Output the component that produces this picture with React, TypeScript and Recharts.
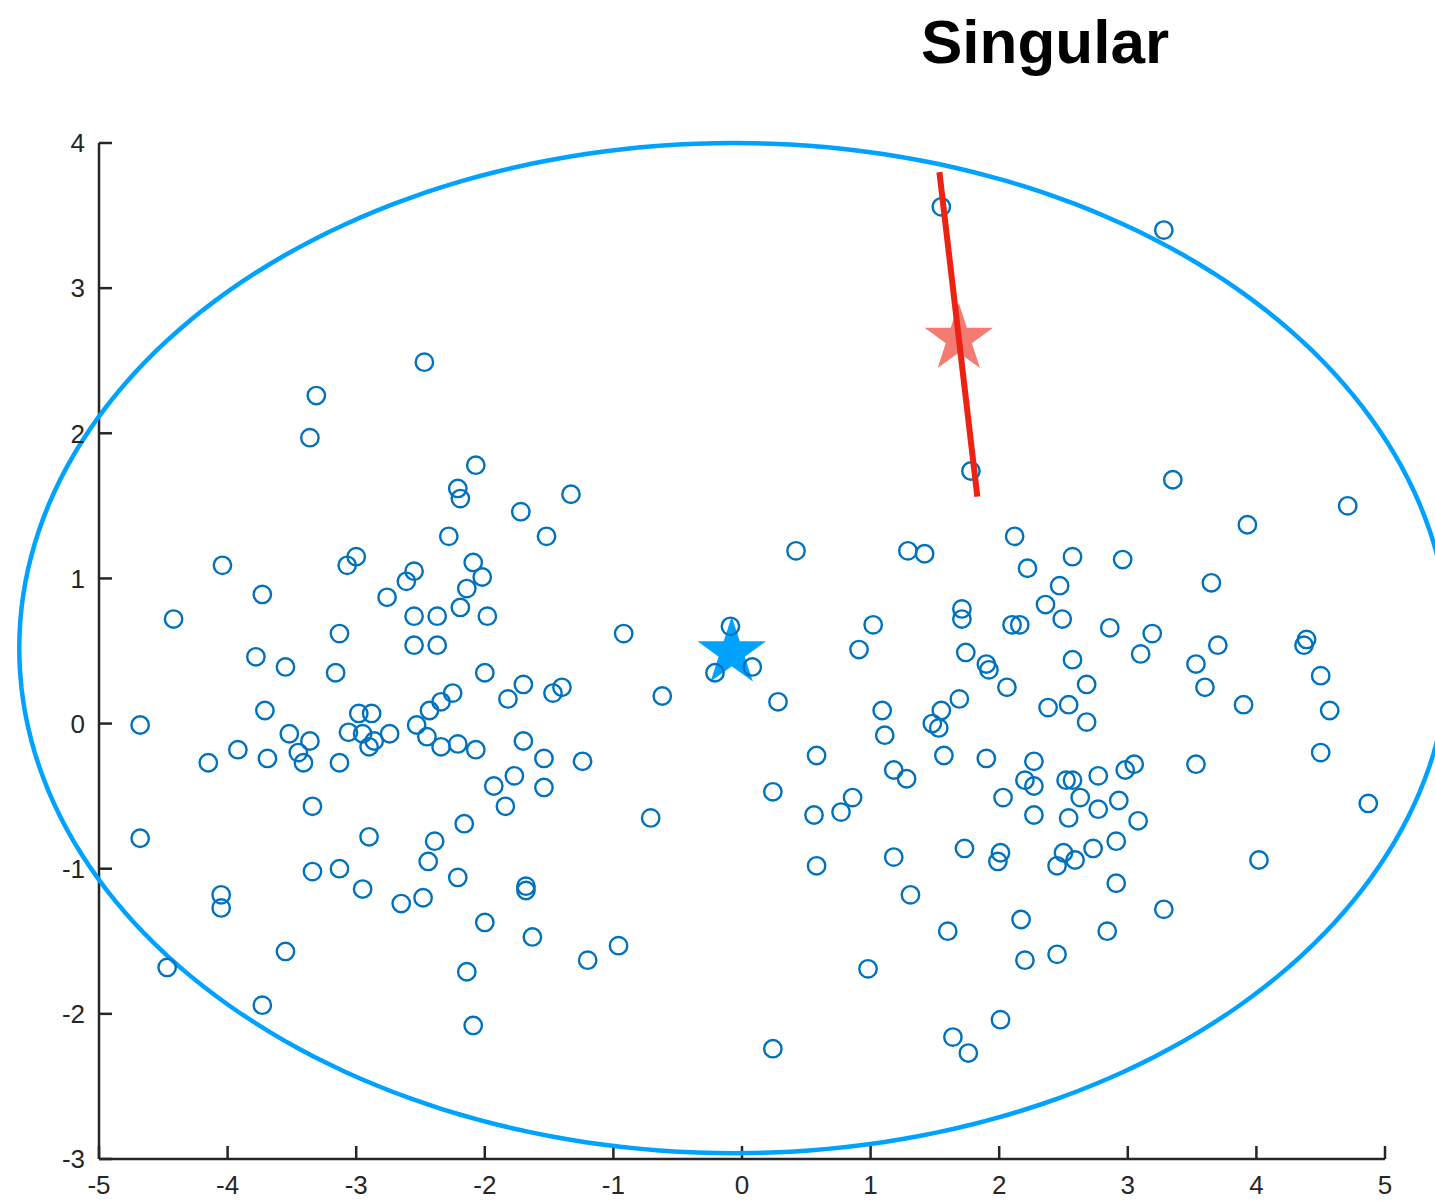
import React from 'react';
import { ComposedChart, Line, Scatter, XAxis, YAxis } from 'recharts';

// ejes
const xTicks = [-5, -4, -3, -2, -1, 0, 1, 2, 3, 4, 5];
const yTicks = [-3, -2, -1, 0, 1, 2, 3, 4];

// grupo izquierdo [x, y]
const leftCluster = [
  [-3.31, 2.26], [-3.36, 1.97], [-2.47, 2.49], [-2.07, 1.78], [-2.21, 1.62], [-2.19, 1.55],
  [-1.33, 1.58], [-1.72, 1.46], [-2.28, 1.29], [-1.52, 1.29], [-2.09, 1.11], [-2.02, 1.01],
  [-2.14, 0.93], [-2.19, 0.8], [-2.37, 0.74], [-1.98, 0.74], [-2.37, 0.54], [-4.04, 1.09],
  [-4.42, 0.72], [-3.73, 0.89], [-3.78, 0.46], [-3.55, 0.39], [-3.13, 0.62], [-3.16, 0.35],
  [-3.07, 1.09], [-3.0, 1.15], [-2.61, 0.98], [-2.55, 1.05], [-2.76, 0.87], [-2.55, 0.74],
  [-2.55, 0.54], [-4.68, -0.01], [-3.71, 0.09], [-2.98, 0.07], [-2.88, 0.07], [-2.53, -0.01],
  [-2.43, 0.09], [-2.45, -0.09], [-3.52, -0.07], [-3.36, -0.12], [-3.45, -0.2], [-3.41, -0.27],
  [-3.92, -0.18], [-4.15, -0.27], [-3.69, -0.24], [-3.13, -0.27], [-3.06, -0.06], [-2.95, -0.07],
  [-2.86, -0.12], [-2.9, -0.16], [-2.74, -0.07], [-2.34, 0.15], [-2.25, 0.21], [-2.0, 0.35],
  [-1.7, 0.27], [-1.82, 0.17], [-1.47, 0.21], [-1.4, 0.25], [-2.34, -0.16], [-2.21, -0.14],
  [-2.07, -0.18], [-1.7, -0.12], [-1.54, -0.24], [-1.24, -0.26], [-1.77, -0.36], [-1.93, -0.43],
  [-1.54, -0.44], [-1.84, -0.57], [-2.16, -0.69], [-2.39, -0.81], [-2.44, -0.95], [-2.48, -1.2],
  [-2.21, -1.06], [-1.68, -1.12], [-1.68, -1.15], [-2.0, -1.37], [-1.63, -1.47], [-0.96, -1.53],
  [-1.2, -1.63], [-2.14, -1.71], [-2.09, -2.08], [-0.71, -0.65], [-3.34, -0.57], [-2.9, -0.78],
  [-4.68, -0.79], [-3.34, -1.02], [-3.13, -1.0], [-2.95, -1.14], [-2.65, -1.24], [-4.05, -1.18],
  [-4.05, -1.27], [-3.55, -1.57], [-4.47, -1.68], [-3.73, -1.94], [-0.92, 0.62], [-0.62, 0.19],
];

// puntos cerca del centro
const centerCluster = [
  [-0.09, 0.67], [-0.21, 0.35], [0.08, 0.39], [0.28, 0.15], [0.24, -0.47], [0.24, -2.24],
];

// grupo derecho [x, y]
const rightCluster = [
  [1.55, 3.56], [3.28, 3.4], [1.78, 1.74], [0.42, 1.19], [1.29, 1.19], [1.42, 1.17],
  [2.12, 1.29], [2.57, 1.15], [2.22, 1.07], [2.47, 0.95], [2.36, 0.82], [2.49, 0.72],
  [1.71, 0.79], [1.71, 0.72], [2.1, 0.68], [2.16, 0.68], [1.02, 0.68], [0.91, 0.51],
  [1.74, 0.49], [1.9, 0.41], [1.92, 0.37], [2.06, 0.25], [2.57, 0.44], [2.68, 0.27],
  [1.69, 0.17], [1.09, 0.09], [1.55, 0.09], [1.48, 0.0], [1.53, -0.03], [1.11, -0.08],
  [2.38, 0.11], [2.54, 0.13], [2.68, 0.01], [0.58, -0.22], [1.18, -0.32], [1.28, -0.38],
  [1.57, -0.22], [1.9, -0.24], [2.27, -0.26], [2.2, -0.39], [2.27, -0.43], [2.52, -0.39],
  [2.57, -0.39], [2.63, -0.51], [2.03, -0.51], [2.27, -0.63], [2.54, -0.65], [0.56, -0.63],
  [0.77, -0.61], [0.86, -0.51], [0.58, -0.98], [1.18, -0.92], [1.31, -1.18], [0.98, -1.69],
  [1.73, -0.86], [1.6, -1.43], [2.01, -0.89], [1.99, -0.95], [2.5, -0.89], [2.45, -0.98],
  [2.59, -0.94], [2.17, -1.35], [2.2, -1.63], [2.45, -1.59], [2.01, -2.04], [1.64, -2.16],
  [1.76, -2.27], [2.77, -0.36], [2.98, -0.32], [3.05, -0.28], [3.53, -0.28], [2.77, -0.59],
  [2.93, -0.53], [3.08, -0.67], [2.73, -0.86], [2.91, -0.81], [2.91, -1.1], [3.28, -1.28],
  [2.84, -1.43], [4.02, -0.94], [4.87, -0.55], [3.35, 1.68], [4.71, 1.5], [3.93, 1.37],
  [2.96, 1.13], [3.65, 0.97], [2.86, 0.66], [3.19, 0.62], [3.1, 0.48], [3.7, 0.54],
  [3.53, 0.41], [3.6, 0.25], [4.39, 0.58], [4.37, 0.54], [4.5, 0.33], [3.9, 0.13],
  [4.57, 0.09], [4.5, -0.2],
];

const meanPoint = [{ x: -0.08, y: 0.49 }];
const singularPoint = [{ x: 1.686, y: 2.65 }];
const singularLine = [
  { x: 1.535, y: 3.8 },
  { x: 1.83, y: 1.563 },
];

// elipse ajustada
const ELLIPSE = { cx: -0.06, cy: 0.52, rx: 5.56, ry: 3.48 };
const ellipse = Array.from({ length: 241 }, (_, i) => {
  const t = (i / 240) * 2 * Math.PI;
  return { x: ELLIPSE.cx + ELLIPSE.rx * Math.cos(t), y: ELLIPSE.cy + ELLIPSE.ry * Math.sin(t) };
});

const samples = [...leftCluster, ...centerCluster, ...rightCluster].map(([x, y]) => ({ x, y }));

const AXIS = '#262626';
const LIGHT_BLUE = '#00A2FF';
const RED = '#EC2312';

const starPoints = (cx: number, cy: number, r: number) => {
  const pts: string[] = [];
  for (let i = 0; i < 10; i++) {
    const rad = i % 2 === 0 ? r : r * 0.382;
    const ang = -Math.PI / 2 + (i * Math.PI) / 5;
    pts.push(`${cx + rad * Math.cos(ang)},${cy + rad * Math.sin(ang)}`);
  }
  return pts.join(' ');
};

const makeStar = (fill: string, opacity: number) => (p: any) => (
  <polygon points={starPoints(p.cx, p.cy, 36)} fill={fill} fillOpacity={opacity} stroke="none" />
);

const Ring = (p: any) => (
  <circle cx={p.cx} cy={p.cy} r={8.7} fill="none" stroke="#0072BD" strokeWidth={2.4} />
);

const tickStyle = { fill: AXIS, fontSize: 26, fontFamily: '"Liberation Sans", Arial, sans-serif' };

const App: React.FC = () => {
  return (
    <div
      style={{
        position: 'absolute',
        left: 0,
        top: 0,
        width: 1435,
        height: 1201,
        background: '#fff',
        overflow: 'hidden',
        fontFamily: '"Liberation Sans", Arial, sans-serif',
      }}
    >
      {/* la elipse sale del área del gráfico, como en el original */}
      <style>{`[clip-path]{clip-path:none !important;} .recharts-surface{overflow:visible !important;}`}</style>
      <ComposedChart width={1435} height={1201} margin={{ top: 143, right: 50, bottom: 0, left: 0 }}>
        <XAxis
          type="number"
          dataKey="x"
          domain={[-5, 5]}
          ticks={xTicks}
          interval={0}
          allowDataOverflow
          height={42}
          tickSize={-13}
          tickMargin={30}
          axisLine={{ stroke: AXIS, strokeWidth: 2.5 }}
          tickLine={{ stroke: AXIS, strokeWidth: 2.5 }}
          tick={tickStyle}
        />
        <YAxis
          type="number"
          dataKey="y"
          domain={[-3, 4]}
          ticks={yTicks}
          interval={0}
          allowDataOverflow
          width={99}
          tickSize={-13}
          tickMargin={27}
          axisLine={{ stroke: AXIS, strokeWidth: 2.5 }}
          tickLine={{ stroke: AXIS, strokeWidth: 2.5 }}
          tick={tickStyle}
        />
        <Line
          data={ellipse}
          dataKey="y"
          type="linear"
          stroke={LIGHT_BLUE}
          strokeWidth={4.5}
          dot={false}
          activeDot={false}
          isAnimationActive={false}
          zIndex={550}
        />
        <Scatter data={meanPoint} dataKey="y" shape={makeStar(LIGHT_BLUE, 1)} isAnimationActive={false} zIndex={600} />
        <Scatter data={samples} dataKey="y" shape={Ring} isAnimationActive={false} zIndex={620} />
        <Line
          data={singularLine}
          dataKey="y"
          type="linear"
          stroke={RED}
          strokeWidth={6}
          dot={false}
          activeDot={false}
          isAnimationActive={false}
          zIndex={630}
        />
        <Scatter data={singularPoint} dataKey="y" shape={makeStar(RED, 0.6)} isAnimationActive={false} zIndex={640} />
      </ComposedChart>
      <div
        style={{
          position: 'absolute',
          left: 845,
          width: 400,
          top: 11,
          textAlign: 'center',
          fontSize: 62,
          lineHeight: '62px',
          fontWeight: 'bold',
          color: '#000',
        }}
      >
        Singular
      </div>
    </div>
  );
};

export default App;
